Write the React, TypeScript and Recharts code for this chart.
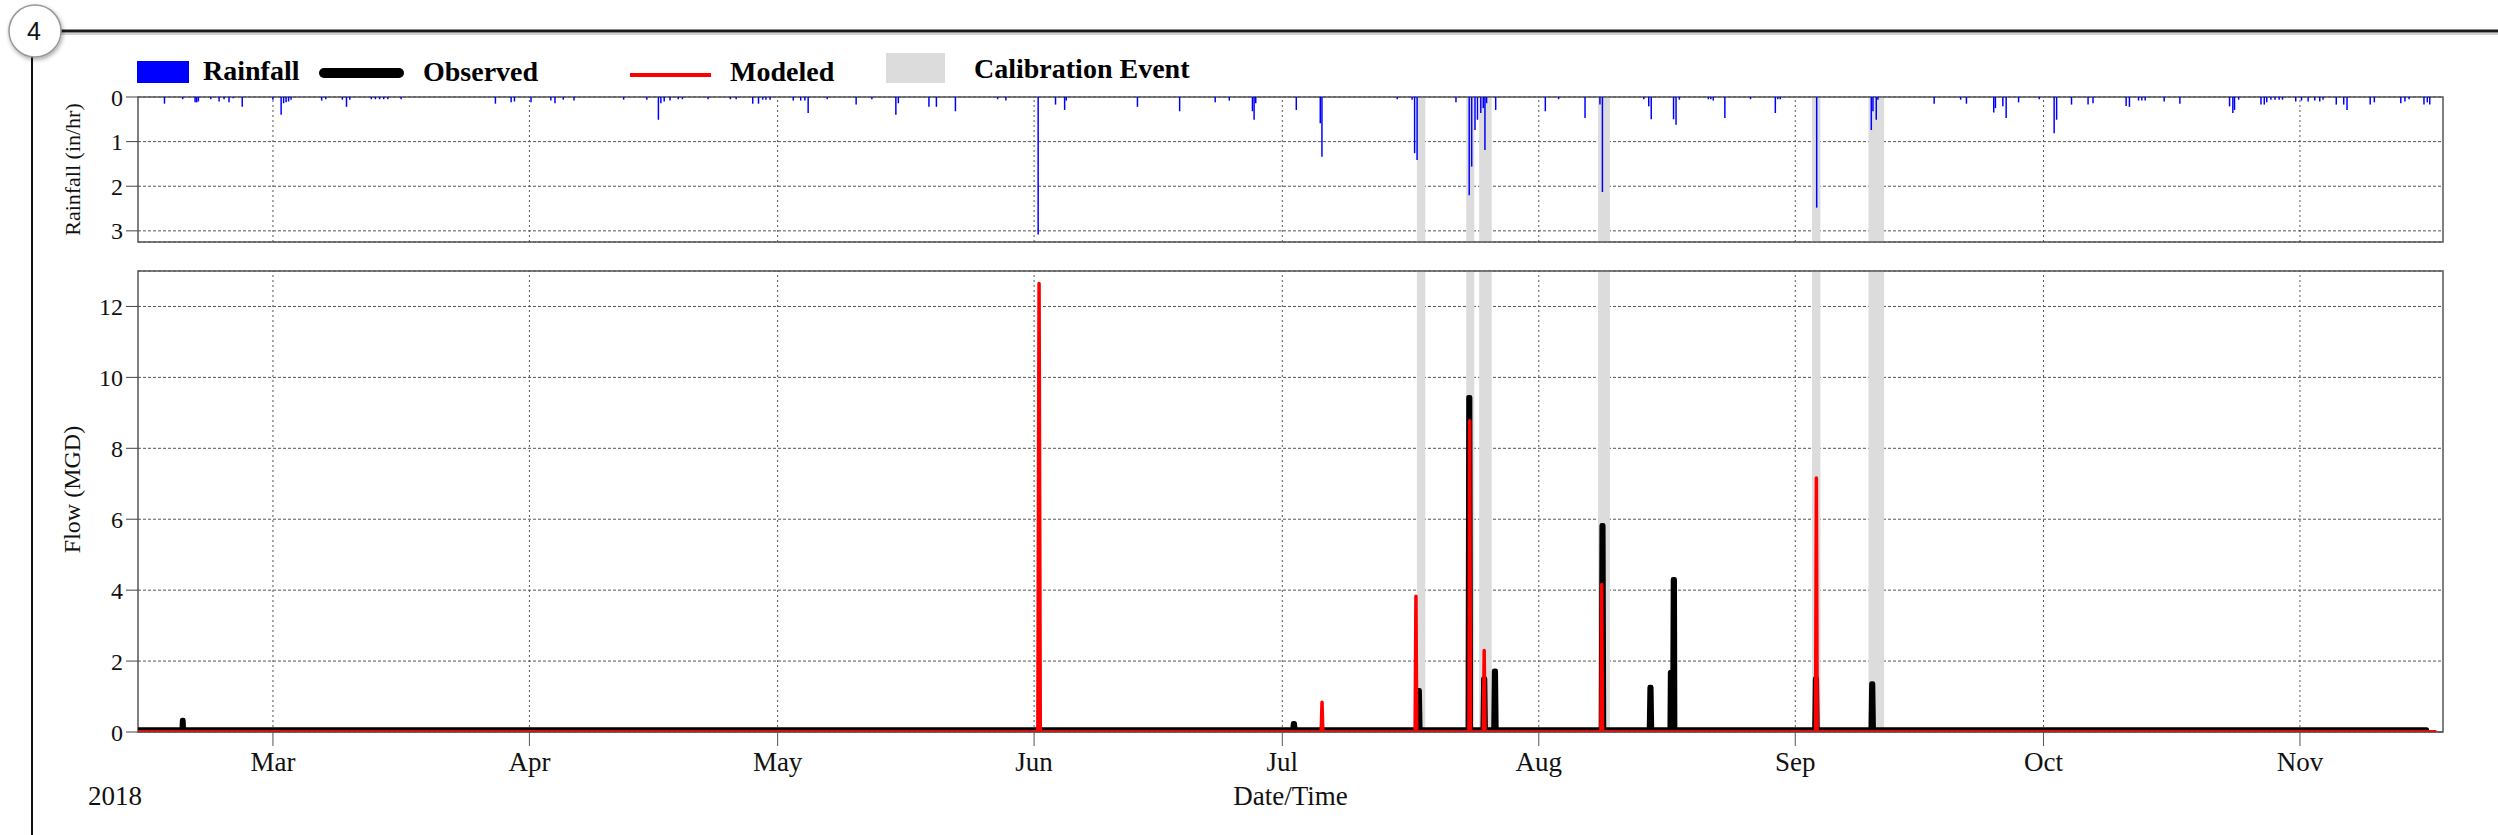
// Rainfall / flow calibration plot (2018)
import {
  ComposedChart,
  Bar,
  Line,
  XAxis,
  YAxis,
  CartesianGrid,
  ReferenceArea,
  ReferenceLine,
  Label,
} from 'recharts';

const SERIF = '"Liberation Serif", "Times New Roman", serif';
const W = 2498;

// x axis is day-of-year 2018 (Jan 1 = 0)
const xDomain: [number, number] = [42.69, 321.29];
const monthTicks = [59, 90, 120, 151, 181, 212, 243, 273, 304];
const monthLabels = ['Mar', 'Apr', 'May', 'Jun', 'Jul', 'Aug', 'Sep', 'Oct', 'Nov'];

const rainTicks = [0, 1, 2, 3];
const flowTicks = [0, 2, 4, 6, 8, 10, 12];

// calibration events (start / end day)
const calibStart = [197.27, 203.23, 204.79, 219.17, 245.02, 251.85];
const calibEnd = [198.28, 204.21, 206.31, 220.6, 246.04, 253.74];

// rainfall intensity (in/hr)
const rainDay = [
  45.9, 48.1, 49.6, 49.8, 50.0, 51.5, 52.5, 53.1, 53.7, 54.2, 55.3, 59.0, 60.0, 60.3, 60.6, 60.9,
  61.2, 64.9, 65.4, 67.4, 67.9, 68.3, 70.9, 71.4, 71.9, 72.4, 72.9, 74.5, 85.9, 87.8, 88.2, 90.2,
  92.6, 93.1, 94.1, 95.4, 101.4, 104.2, 105.6, 105.9, 106.3, 107.0, 108.0, 108.5, 111.6, 114.3,
  115.0, 117.0, 117.7, 118.2, 118.6, 119.1, 121.9, 122.8, 123.3, 123.7, 126.0, 129.5, 131.4, 134.3,
  134.6, 138.3, 139.2, 141.5, 146.6, 147.6, 151.5, 153.6, 154.7, 154.9, 163.5, 168.6, 172.9, 174.6,
  177.4, 177.6, 177.8, 182.7, 185.6, 185.8, 194.9, 196.7, 197.0, 197.3, 202.0, 203.6, 203.9, 204.3,
  204.6, 205.0, 205.3, 205.5, 205.7, 206.8, 212.8, 214.4, 217.6, 219.4, 219.7, 224.7, 225.3, 225.6,
  228.3, 228.6, 229.0, 232.5, 232.8, 233.1, 234.5, 237.6, 240.6, 240.9, 241.2, 245.6, 252.2, 252.4,
  252.8, 253.0, 259.8, 263.0, 263.7, 267.0, 267.2, 268.1, 268.5, 270.0, 272.5, 274.3, 274.6, 276.4,
  278.4, 279.0, 283.0, 283.4, 284.5, 284.9, 285.3, 287.6, 289.5, 295.5, 295.9, 296.1, 296.6, 299.3,
  299.7, 300.0, 300.5, 301.0, 301.5, 301.9, 303.5, 304.2, 305.0, 305.8, 306.4, 306.8, 308.4, 309.3,
  309.7, 312.5, 313.0, 316.2, 316.7, 317.2, 319.0, 319.4, 319.7,
];
const rainIn = [
  0.15, 0.05, 0.12, 0.12, 0.1, 0.05, 0.1, 0.05, 0.12, 0.03, 0.22, 0.06, 0.4, 0.14, 0.12, 0.1,
  0.06, 0.08, 0.05, 0.06, 0.22, 0.06, 0.05, 0.05, 0.05, 0.05, 0.05, 0.05, 0.15, 0.12, 0.1, 0.12,
  0.08, 0.14, 0.06, 0.08, 0.06, 0.06, 0.51, 0.14, 0.1, 0.08, 0.05, 0.05, 0.05, 0.05,
  0.05, 0.15, 0.15, 0.06, 0.06, 0.06, 0.08, 0.08, 0.08, 0.36, 0.05, 0.17, 0.05, 0.4,
  0.14, 0.22, 0.22, 0.32, 0.05, 0.08, 3.08, 0.17, 0.29, 0.08, 0.22, 0.32, 0.12, 0.08,
  0.32, 0.51, 0.14, 0.29, 0.59, 1.34, 0.05, 0.06, 1.26, 1.41, 0.12, 2.2, 1.56, 0.74,
  0.51, 0.36, 0.25, 1.19, 0.14, 0.29, 0.32, 0.05, 0.47, 0.17, 2.13, 0.05, 0.21, 0.5,
  0.5, 0.62, 0.06, 0.05, 0.05, 0.08, 0.47, 0.05, 0.36, 0.05, 0.05, 2.48, 0.74, 0.32,
  0.51, 0.06, 0.15, 0.06, 0.15, 0.35, 0.25, 0.21, 0.47, 0.12, 0.05, 0.81, 0.51, 0.17,
  0.17, 0.14, 0.2, 0.22, 0.08, 0.08, 0.08, 0.1, 0.15, 0.21, 0.36, 0.29, 0.06, 0.17,
  0.17, 0.12, 0.06, 0.06, 0.06, 0.06, 0.1, 0.08, 0.1, 0.08, 0.1, 0.06, 0.17, 0.17,
  0.29, 0.17, 0.12, 0.14, 0.1, 0.05, 0.17, 0.12, 0.17,
];

// observed flow (MGD)
const obsDay = [
  42.7,
  48.0, 48.05, 48.15, 48.2,
  182.25, 182.33, 182.47, 182.55,
  197.35, 197.43, 197.57, 197.65,
  203.45, 203.53, 203.67, 203.75,
  205.25, 205.33, 205.47, 205.55,
  206.55, 206.63, 206.77, 206.85,
  219.55, 219.63, 219.77, 219.85,
  225.35, 225.43, 225.57, 225.65,
  227.85, 227.9, 228.2, 228.25, 228.4, 228.45,
  245.35, 245.43, 245.57, 245.65,
  252.15, 252.23, 252.37, 252.45,
  319.3,
];
const obsFlow = [
  0.06,
  0.06, 0.33, 0.33, 0.06,
  0.06, 0.24, 0.24, 0.06,
  0.06, 1.17, 1.17, 0.06,
  0.06, 9.43, 9.43, 0.06,
  0.06, 1.5, 1.5, 0.06,
  0.06, 1.72, 1.72, 0.06,
  0.06, 5.82, 5.82, 0.06,
  0.06, 1.26, 1.26, 0.06,
  0.06, 1.68, 1.7, 4.3, 4.3, 0.06,
  0.06, 1.5, 1.5, 0.06,
  0.06, 1.36, 1.36, 0.06,
  0.06,
];

// modeled flow (MGD)
const modDay = [
  42.7, 151.45, 151.6, 151.75, 185.7, 185.8, 185.9, 197.05, 197.15, 197.25, 203.55, 203.65, 203.75,
  205.3, 205.4, 205.5, 219.5, 219.6, 219.7, 245.45, 245.55, 245.65, 320.5,
];
const modFlow = [
  0.01, 0.01, 12.65, 0.01, 0.01, 0.84, 0.01, 0.01, 3.83, 0.01, 0.01, 8.78, 0.01,
  0.01, 2.3, 0.01, 0.01, 4.16, 0.01, 0.01, 7.16, 0.01, 0.01,
];

const rainData = rainDay.map((d, i) => ({ day: d, rain: rainIn[i] }));
const obsData = obsDay.map((d, i) => ({ day: d, flow: obsFlow[i] }));
const modData = modDay.map((d, i) => ({ day: d, flow: modFlow[i] }));

const tickStyle = { fill: '#111', fontSize: 24, fontFamily: SERIF };

function YTitle({ text, viewBox, size, shift = 0 }: { text: string; viewBox?: any; size: number; shift?: number }) {
  if (!viewBox) return null;
  const cx = 72;
  const cy = viewBox.y + viewBox.height / 2 + shift;
  return (
    <text
      x={cx}
      y={cy}
      transform={`rotate(-90 ${cx} ${cy})`}
      textAnchor="middle"
      dominantBaseline="central"
      fontFamily={SERIF}
      fontSize={size}
      fill="#111"
    >
      {text}
    </text>
  );
}

function calibBands(y1: number, y2: number) {
  return calibStart.map((s, i) => (
    <ReferenceArea
      key={`cal-${i}`}
      x1={s}
      x2={calibEnd[i]}
      y1={y1}
      y2={y2}
      fill="#dcdcdc"
      fillOpacity={1}
      stroke="none"
      ifOverflow="hidden"
    />
  ));
}

function monthLines() {
  return monthTicks.map((m) => (
    <ReferenceLine key={`m-${m}`} x={m} stroke="#555" strokeDasharray="2 3" strokeWidth={1} />
  ));
}

function RainChart() {
  return (
    <ComposedChart width={W} height={250} data={rainData} margin={{ top: 97, right: 55, bottom: 8, left: 0 }}>
      <CartesianGrid vertical={false} stroke="#555" strokeDasharray="3 2" />
      <XAxis type="number" dataKey="day" domain={xDomain} allowDataOverflow ticks={monthTicks} hide />
      <YAxis
        reversed
        domain={[0, 3.25]}
        allowDataOverflow
        ticks={rainTicks}
        interval={0}
        width={138}
        tickSize={12}
        tickMargin={3}
        axisLine={false}
        tickLine={{ stroke: '#444' }}
        tick={tickStyle}
      >
        <Label content={(p: any) => <YTitle text="Rainfall (in/hr)" viewBox={p.viewBox} size={22} />} />
      </YAxis>
      {monthLines()}
      {calibBands(0, 3.25)}
      <Bar dataKey="rain" fill="#0000ff" barSize={2} isAnimationActive={false} />
      <ReferenceArea x1={xDomain[0]} x2={xDomain[1]} y1={0} y2={3.25} fill="none" stroke="#555" strokeWidth={1.5} />
    </ComposedChart>
  );
}

function FlowChart() {
  return (
    <ComposedChart width={W} height={585} margin={{ top: 21, right: 55, bottom: 43, left: 0 }}>
      <CartesianGrid vertical={false} stroke="#555" strokeDasharray="3 2" />
      <XAxis
        type="number"
        dataKey="day"
        domain={xDomain}
        allowDataOverflow
        ticks={monthTicks}
        interval={0}
        height={60}
        tickSize={14}
        tickMargin={6}
        stroke="#555"
        tick={{ fill: '#111', fontSize: 27, fontFamily: SERIF }}
        tickFormatter={(v: number) => monthLabels[monthTicks.indexOf(v)]}
      >
        <Label
          content={(p: any) => {
            const vb = p.viewBox;
            if (!vb) return null;
            return (
              <g fontFamily={SERIF} fill="#111">
                <text x={vb.x + vb.width / 2} y={vb.y + 73} textAnchor="middle" fontSize={27}>
                  Date/Time
                </text>
                <text x={115} y={vb.y + 73} textAnchor="middle" fontSize={27}>
                  2018
                </text>
              </g>
            );
          }}
        />
      </XAxis>
      <YAxis
        domain={[0, 13]}
        allowDataOverflow
        ticks={flowTicks}
        interval={0}
        width={138}
        tickSize={12}
        tickMargin={3}
        axisLine={false}
        tickLine={{ stroke: '#444' }}
        tick={tickStyle}
      >
        <Label content={(p: any) => <YTitle text="Flow (MGD)" viewBox={p.viewBox} size={24} shift={-12} />} />
      </YAxis>
      {monthLines()}
      {calibBands(0, 13)}
      <Line
        data={obsData}
        dataKey="flow"
        type="linear"
        stroke="#000"
        strokeWidth={5}
        strokeLinejoin="round"
        strokeLinecap="round"
        dot={false}
        isAnimationActive={false}
      />
      <Line
        data={modData}
        dataKey="flow"
        type="linear"
        stroke="#ff0000"
        strokeWidth={3.5}
        strokeLinejoin="round"
        dot={false}
        isAnimationActive={false}
      />
      <ReferenceArea x1={xDomain[0]} x2={xDomain[1]} y1={0} y2={13} fill="none" stroke="#555" strokeWidth={1.5} />
    </ComposedChart>
  );
}

function LegendRow() {
  return (
    <svg width={1300} height={100} style={{ position: 'absolute', left: 0, top: 0 }}>
      <g fontFamily={SERIF} fontWeight="bold" fontSize={28} fill="#000">
        <rect x={137} y={61} width={52} height={22} fill="#0000ff" />
        <text x={203} y={80}>Rainfall</text>
        <line x1={324} y1={73} x2={399} y2={73} stroke="#000" strokeWidth={10} strokeLinecap="round" />
        <text x={423} y={81}>Observed</text>
        <line x1={630} y1={75} x2={711} y2={75} stroke="#ff0000" strokeWidth={4} />
        <text x={730} y={81}>Modeled</text>
        <rect x={886} y={53} width={59} height={30} fill="#dcdcdc" />
        <text x={974} y={78}>Calibration Event</text>
      </g>
    </svg>
  );
}

function PageFrame() {
  return (
    <svg width={W} height={835} style={{ position: 'absolute', left: 0, top: 0 }}>
      <defs>
        <filter id="badgeShadow" x="-30%" y="-30%" width="160%" height="160%">
          <feDropShadow dx="1" dy="2" stdDeviation="2" floodColor="#000" floodOpacity="0.35" />
        </filter>
      </defs>
      <line x1={60} y1={34} x2={W} y2={34} stroke="#d0d0d0" strokeWidth={2} />
      <line x1={60} y1={31} x2={W} y2={31} stroke="#1a1a1a" strokeWidth={3} />
      <line x1={32} y1={56} x2={32} y2={835} stroke="#111" strokeWidth={2} />
      <circle cx={35} cy={31} r={26} fill="#fff" stroke="#999" strokeWidth={1.5} filter="url(#badgeShadow)" />
      <text x={34} y={31} textAnchor="middle" dominantBaseline="central" fontFamily="Arial, 'Liberation Sans', sans-serif" fontSize={25} fill="#111">
        4
      </text>
    </svg>
  );
}

export default function App() {
  return (
    <div style={{ position: 'absolute', left: 0, top: 0, width: W, height: 835, background: '#fff', overflow: 'hidden' }}>
      <PageFrame />
      <LegendRow />
      <div style={{ position: 'absolute', left: 0, top: 0 }}>
        <RainChart />
      </div>
      <div style={{ position: 'absolute', left: 0, top: 250 }}>
        <FlowChart />
      </div>
    </div>
  );
}
